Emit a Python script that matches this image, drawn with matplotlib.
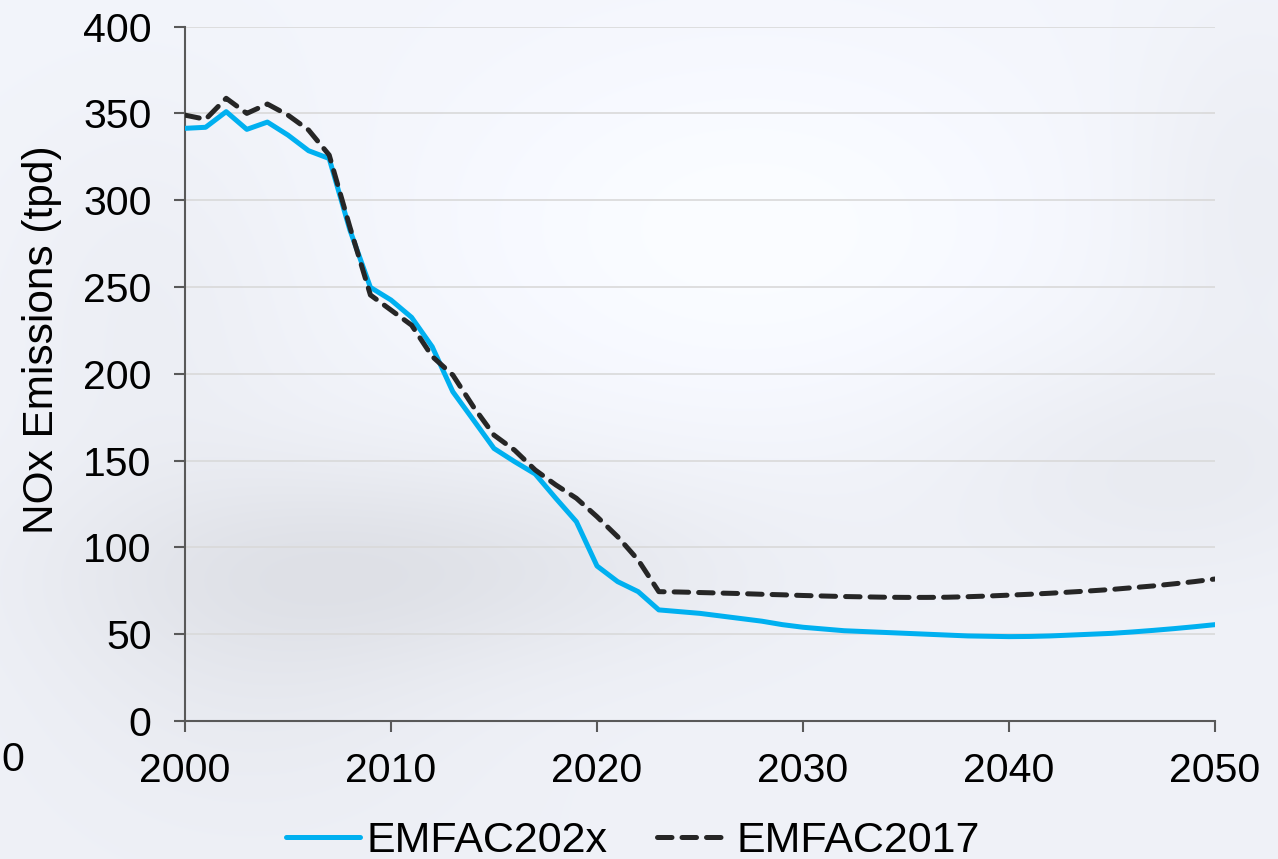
import numpy as np
import matplotlib
matplotlib.use("Agg")
import matplotlib.pyplot as plt

years = list(range(2000, 2051))
emfac202x = [341.4, 342, 351, 340.8, 345, 337.5, 328.5, 324, 283, 249.8,
             242.5, 232.5, 215.6, 189.7, 173.4, 157, 149.4, 142.3, 128.3, 114.8,
             89.3, 80.3, 74.5, 64, 63, 62, 60.5, 59, 57.5, 55.5,
             54, 53, 52, 51.5, 51, 50.5, 50, 49.5, 49, 48.8,
             48.6, 48.7, 49, 49.5, 50, 50.5, 51.3, 52.2, 53.2, 54.3, 55.5]
emfac2017 = [349, 346.6, 358.7, 350, 355.4, 349, 340.4, 326, 284.7, 245.4,
             236.7, 228, 210, 199.3, 181, 164.7, 156, 144.6, 136, 128.3,
             117.7, 106.2, 92.7, 74.5, 74.3, 74, 73.7, 73.4, 73, 72.7,
             72.3, 72, 71.7, 71.5, 71.3, 71.2, 71.2, 71.3, 71.6, 72,
             72.5, 73, 73.6, 74.3, 75, 75.8, 76.8, 77.8, 79, 80.3, 81.8]
series_labels = ["EMFAC202x", "EMFAC2017"]
y_ticks = [0, 50, 100, 150, 200, 250, 300, 350, 400]
x_ticks = [2000, 2010, 2020, 2030, 2040, 2050]

plt.rcParams['font.family'] = ['Liberation Sans', 'DejaVu Sans']

W, H = 1278, 859
fig = plt.figure(figsize=(W / 100, H / 100), dpi=100)

# cloudy background
bg = fig.add_axes([0, 0, 1, 1], zorder=-10)
yy, xx = np.mgrid[0:H, 0:W]
def blob(cx, cy, sx, sy):
    return np.exp(-(((xx - cx) / sx) ** 2 + ((yy - cy) / sy) ** 2))
img = 0.965 - 0.015 * (yy / H)
img -= 0.055 * blob(420, 565, 320, 100)
img -= 0.03 * blob(250, 650, 220, 170)
img -= 0.03 * blob(1150, 470, 220, 110)
img -= 0.025 * blob(1250, 200, 120, 200)
img -= 0.02 * blob(150, 300, 150, 200)
img += 0.035 * blob(750, 240, 330, 200)
img = np.clip(img, 0, 1)
rgb = np.dstack([img - 0.012, img - 0.004, img + 0.02])
rgb = np.clip(rgb, 0, 1)
bg.imshow(rgb, aspect='auto', extent=[0, W, H, 0])
bg.set_axis_off()

ax = fig.add_axes([185 / W, 1 - 721 / H, (1215 - 185) / W, (721 - 26.6) / H])
ax.patch.set_alpha(0)

ax.plot(years, emfac202x, color='#00B0F0', lw=3.6, label=series_labels[0],
        solid_capstyle='round', zorder=3)
ax.plot(years, emfac2017, color='#262626', lw=3.6, label=series_labels[1],
        dashes=(2.9, 2.0), dash_capstyle='round', zorder=4)

ax.set_xlim(2000, 2050)
ax.set_ylim(0, 400)
ax.set_xticks(x_ticks)
ax.set_yticks(y_ticks)
ax.grid(axis='y', color='#d9d9d9', lw=1.2, zorder=0)
ax.set_axisbelow(True)
for s in ['top', 'right']:
    ax.spines[s].set_visible(False)
for s in ['left', 'bottom']:
    ax.spines[s].set_color('#595959')
    ax.spines[s].set_linewidth(1.5)
ax.tick_params(axis='both', direction='out', length=8, width=1.5, color='#595959',
               labelsize=29.5, labelcolor='black')
ax.tick_params(axis='x', pad=14)
ax.tick_params(axis='y', pad=16)
ax.set_ylabel("NOx Emissions (tpd)", fontsize=30.5)
ax.yaxis.set_label_coords((62 - 185) / (1215 - 185), 0.549)

leg = fig.legend(loc='center', bbox_to_anchor=(633 / W, 1 - 841 / H), ncol=2,
                 frameon=False, fontsize=31, handlelength=1.7, handletextpad=0.15,
                 columnspacing=1.15, borderpad=0, borderaxespad=0)

fig.text(1 / W, 1 - 760 / H, "0", fontsize=29.5, ha='left', va='center')

fig.savefig("out.png", dpi=100)
